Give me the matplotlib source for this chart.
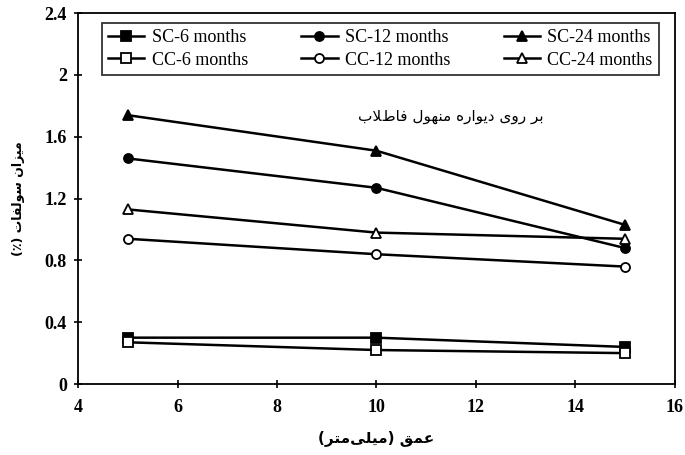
import matplotlib
matplotlib.use("Agg")
import matplotlib.pyplot as plt

# Dados
depth = [5, 10, 15]
sc_6 = [0.30, 0.30, 0.24]
cc_6 = [0.27, 0.22, 0.20]
sc_12 = [1.46, 1.27, 0.88]
cc_12 = [0.94, 0.84, 0.76]
sc_24 = [1.74, 1.51, 1.03]
cc_24 = [1.13, 0.98, 0.94]

x_ticks = [4, 6, 8, 10, 12, 14, 16]
y_ticks = [0, 0.4, 0.8, 1.2, 1.6, 2.0, 2.4]
y_tick_labels = ["0", "0.4", "0.8", "1.2", "1.6", "2", "2.4"]

x_label = "عمق (میلی\u200cمتر)"
y_label = "میزان سولفات (٪)"
note = "بر روی دیواره منهول فاضلاب"

# formas de apresentacao: isolada, final, inicial, medial
FORMS = {
    'ا': (0xFE8D, 0xFE8E, None, None),
    'ب': (0xFE8F, 0xFE90, 0xFE91, 0xFE92),
    'ت': (0xFE95, 0xFE96, 0xFE97, 0xFE98),
    'د': (0xFEA9, 0xFEAA, None, None),
    'ر': (0xFEAD, 0xFEAE, None, None),
    'ز': (0xFEAF, 0xFEB0, None, None),
    'س': (0xFEB1, 0xFEB2, 0xFEB3, 0xFEB4),
    'ض': (0xFEBF, 0xFEC0, 0xFEC1, 0xFEC2),
    'ع': (0xFEC9, 0xFECA, 0xFECB, 0xFECC),
    'ف': (0xFED1, 0xFED2, 0xFED3, 0xFED4),
    'ق': (0xFED5, 0xFED6, 0xFED7, 0xFED8),
    'ل': (0xFEDD, 0xFEDE, 0xFEDF, 0xFEE0),
    'م': (0xFEE1, 0xFEE2, 0xFEE3, 0xFEE4),
    'ن': (0xFEE5, 0xFEE6, 0xFEE7, 0xFEE8),
    'ه': (0xFEE9, 0xFEEA, 0xFEEB, 0xFEEC),
    'و': (0xFEED, 0xFEEE, None, None),
    'ی': (0xFBFC, 0xFBFD, 0xFBFE, 0xFBFF),
    'LA': (0xFEFB, 0xFEFC, None, None),
}


def shape(text):
    letters = []
    i = 0
    while i < len(text):
        if text[i] == 'ل' and i + 1 < len(text) and text[i + 1] == 'ا':
            letters.append('LA')
            i += 2
        else:
            letters.append(text[i])
            i += 1
    out = []
    for k, c in enumerate(letters):
        if c not in FORMS:
            if c != '\u200c':
                out.append(c)
            continue
        prev = letters[k - 1] if k > 0 else None
        nxt = letters[k + 1] if k + 1 < len(letters) else None
        j_prev = prev in FORMS and FORMS[prev][2] is not None
        j_next = FORMS[c][2] is not None and nxt in FORMS
        iso, fin, ini, med = FORMS[c]
        if j_prev and j_next:
            out.append(chr(med))
        elif j_prev:
            out.append(chr(fin))
        elif j_next:
            out.append(chr(ini))
        else:
            out.append(chr(iso))
    swap = {'(': ')', ')': '('}
    return ''.join(swap.get(c, c) for c in reversed(out))


fig = plt.figure(figsize=(6.85, 4.55), dpi=100)
ax = fig.add_axes([0.114, 0.156, 0.871, 0.815])

serie = [
    (sc_6, "SC-6 months", "s", "black"),
    (cc_6, "CC-6 months", "s", "white"),
    (sc_12, "SC-12 months", "o", "black"),
    (cc_12, "CC-12 months", "o", "white"),
    (sc_24, "SC-24 months", "^", "black"),
    (cc_24, "CC-24 months", "^", "white"),
]
for valores, nome, marcador, cor in serie:
    ax.plot(depth, valores, color="black", lw=1.8, marker=marcador,
            markersize=6.5, markerfacecolor=cor, markeredgecolor="black",
            markeredgewidth=1.3, label=nome)

ax.set_xlim(4, 16)
ax.set_ylim(0, 2.4)
ax.set_xticks(x_ticks)
ax.set_yticks(y_ticks)
ax.set_yticklabels(y_tick_labels)
ax.tick_params(direction="inout", length=6, width=1.2, labelsize=13)
ax.tick_params(axis="x", pad=8)
ax.tick_params(axis="y", pad=5)
for lbl in ax.get_xticklabels() + ax.get_yticklabels():
    lbl.set_family("Liberation Serif")
    lbl.set_fontweight("bold")
for sp in ax.spines.values():
    sp.set_linewidth(1.3)

ax.set_xlabel(shape(x_label), family="DejaVu Sans", fontweight="bold", fontsize=11, labelpad=10)
ax.set_ylabel(shape(y_label), family="DejaVu Sans", fontweight="bold", fontsize=9, labelpad=14)
ax.text(11.5, 1.73, shape(note), family="DejaVu Sans", fontsize=11, ha="center", va="center")

leg = ax.legend(ncol=3, loc="upper left", bbox_to_anchor=(0.025, 0.83, 0.963, 0.168),
                mode="expand", prop={"family": "Liberation Serif", "size": 13},
                frameon=True, fancybox=False, edgecolor="black", borderpad=0.35,
                handlelength=2.0, handletextpad=0.4, columnspacing=0.8, labelspacing=0.3)
leg.get_frame().set_linewidth(1.3)

fig.savefig("out.png", dpi=100)
